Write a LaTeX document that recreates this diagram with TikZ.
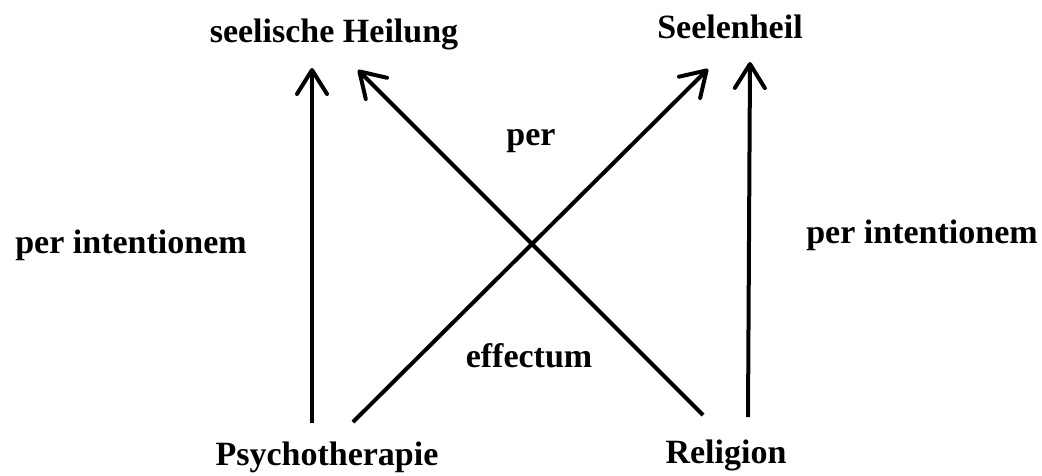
\documentclass[tikz,border=0pt]{standalone}
\usepackage{fontspec}
\setmainfont{Liberation Serif}
\usetikzlibrary{arrows.meta}
\begin{document}
\begin{tikzpicture}[x=1pt,y=-1pt,
  lbl/.style={anchor=base,inner sep=0pt,font=\fontsize{34}{40}\selectfont\bfseries},
  arr/.style={line width=4pt,-{Straight Barb[length=24pt,width=30pt,line cap=round,line join=round]}}]
\useasboundingbox (0,0) rectangle (1042,475);
\node[lbl] (sh) at (334,42) {seelische Heilung};
\node[lbl] (sl) at (730,38) {Seelenheil};
\node[lbl] (ps) at (327,465) {Psychotherapie};
\node[lbl] (re) at (726,463) {Religion};
\node[lbl] (pil) at (131,253) {per intentionem};
\node[lbl] (pir) at (922,243) {per intentionem};
\node[lbl] (per) at (531,145) {per};
\node[lbl] (eff) at (529,367) {effectum};
\coordinate (a1s) at (312,423);
\coordinate (a1e) at (312,68);
\coordinate (a2s) at (353,422);
\coordinate (a2e) at (708,69);
\coordinate (a3s) at (703,415);
\coordinate (a3e) at (358,70);
\coordinate (a4s) at (748,417);
\coordinate (a4e) at (750,62);
\draw[arr] (a1s) -- (a1e);
\draw[arr] (a2s) -- (a2e);
\draw[arr] (a3s) -- (a3e);
\draw[arr] (a4s) -- (a4e);
\end{tikzpicture}
\end{document}
